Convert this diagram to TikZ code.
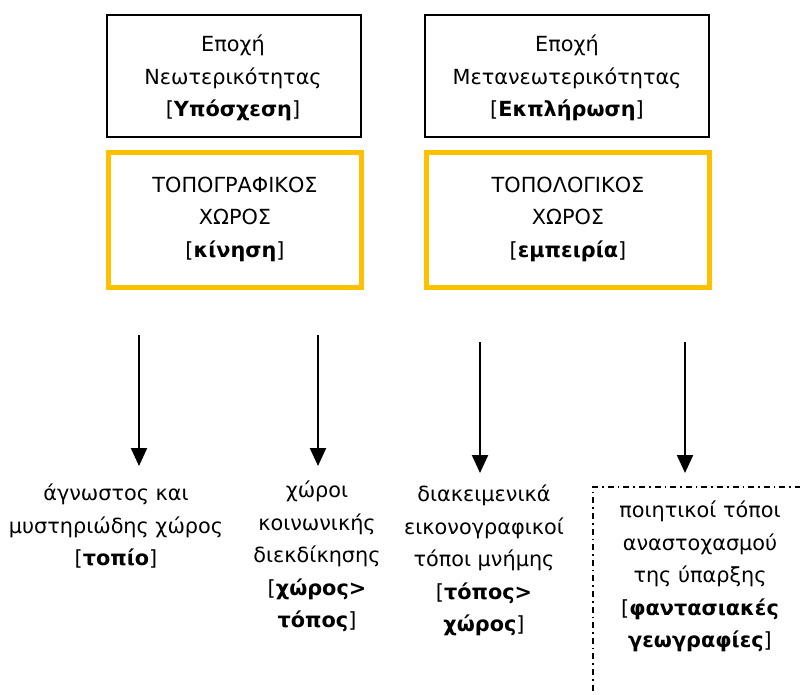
\documentclass[tikz,border=0pt]{standalone}
\usepackage{fontspec}
\setmainfont{DejaVu Sans}
\usetikzlibrary{arrows.meta}
\definecolor{gold}{HTML}{FFC000}
\tikzset{
  x=1pt, y=-1pt,
  txt/.style={align=center, inner sep=0pt, font=\fontsize{20.8}{32.5}\selectfont},
  era/.style={draw=black, line width=1.6pt},
  space/.style={draw=gold, line width=5pt},
  down/.style={line width=2.2pt, -{Triangle[width=16pt,length=18pt]}},
  dashdot/.style={line width=1.4pt, dash pattern=on 6pt off 4pt on 1.6pt off 4pt}
}
\begin{document}
\begin{tikzpicture}
\useasboundingbox (0,0) rectangle (800,695);

% era boxes
\draw[era] (107,15) rectangle (361,137);
\draw[era] (425,15) rectangle (709,137);
\node[txt] (era1) at (233,78) {Εποχή\\Νεωτερικότητας\\{}[\textbf{Υπόσχεση}]};
\node[txt] (era2) at (567,78) {Εποχή\\Μετανεωτερικότητας\\{}[\textbf{Εκπλήρωση}]};

% space boxes
\draw[space] (108.5,152.5) rectangle (361.5,287.5);
\draw[space] (426.5,152.5) rectangle (709.5,287.5);
\node[txt] (sp1) at (235,219) {ΤΟΠΟΓΡΑΦΙΚΟΣ\\ΧΩΡΟΣ\\{}[\textbf{κίνηση}]};
\node[txt] (sp2) at (568,219) {ΤΟΠΟΛΟΓΙΚΟΣ\\ΧΩΡΟΣ\\{}[\textbf{εμπειρία}]};

% arrows
\coordinate (a1s) at (139,335); \coordinate (a1e) at (139,466);
\coordinate (a2s) at (318,335); \coordinate (a2e) at (318,466);
\coordinate (a3s) at (480,342); \coordinate (a3e) at (480,473);
\coordinate (a4s) at (685,342); \coordinate (a4e) at (685,473);
\draw[down] (a1s) -- (a1e);
\draw[down] (a2s) -- (a2e);
\draw[down] (a3s) -- (a3e);
\draw[down] (a4s) -- (a4e);

% outcomes
\node[txt, anchor=north] (o1) at (116,484) {άγνωστος και\\μυστηριώδης χώρος\\{}[\textbf{τοπίο}]};
\node[txt, anchor=north] (o2) at (317,481) {χώροι\\κοινωνικής\\διεκδίκησης\\{}[\textbf{χώρος>}\\\textbf{τόπος}]};
\node[txt, anchor=north] (o3) at (484,485) {διακειμενικά\\εικονογραφικοί\\τόποι μνήμης\\{}[\textbf{τόπος>}\\\textbf{χώρος}]};
\node[txt, anchor=north] (o4) at (700,501) {ποιητικοί τόποι\\αναστοχασμού\\της ύπαρξης\\{}[\textbf{φαντασιακές}\\\textbf{γεωγραφίες}]};

% open dash-dot frame
\coordinate (f1) at (801,487);
\coordinate (f2) at (593,487);
\coordinate (f3) at (593,696);
\draw[dashdot] (f1) -- (f2) -- (f3);
\end{tikzpicture}
\end{document}
